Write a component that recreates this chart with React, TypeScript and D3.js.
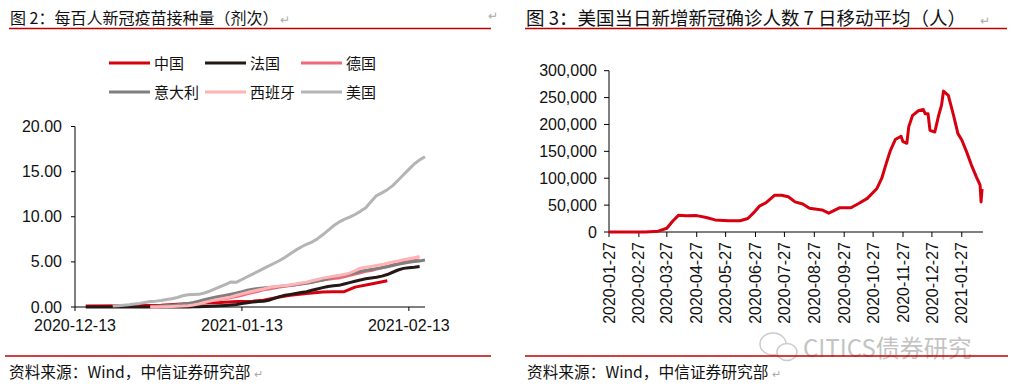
import React from "react";
import * as d3 from "d3";

// ---------- Left chart: vaccine doses per 100 people ----------
const leftTitle = "图 2：每百人新冠疫苗接种量（剂次）";
const rightTitle = "图 3：美国当日新增新冠确诊人数 7 日移动平均（人）";
const sourceText = "资料来源：Wind，中信证券研究部";
const watermarkText = "CITICS债券研究";

const leftXTicks = ["2020-12-13", "2021-01-13", "2021-02-13"];
const leftXDomain = ["2020-12-13", "2021-02-16"];
const leftYTicks = [0, 5, 10, 15, 20];

// China: sparse reported points [date, value]
const chinaDates = ["2020-12-15", "2020-12-23", "2020-12-29", "2021-01-01", "2021-01-04", "2021-01-06", "2021-01-09", "2021-01-12", "2021-01-15", "2021-01-17", "2021-01-20", "2021-01-22", "2021-01-25", "2021-01-28", "2021-01-30", "2021-02-01", "2021-02-03", "2021-02-06", "2021-02-09"];
const chinaValues = [0.1, 0.15, 0.2, 0.3, 0.4, 0.45, 0.5, 0.6, 0.65, 0.75, 1.1, 1.3, 1.5, 1.65, 1.68, 1.7, 2.2, 2.55, 2.9];

// Daily series: start date + daily values
const franceStart = "2020-12-15";
const franceValues = [0, 0, 0, 0, 0, 0, 0, 0, 0, 0, 0, 0, 0, 0, 0, 0, 0.01, 0.01, 0.01, 0.01, 0.02, 0.03, 0.05, 0.07, 0.1, 0.13, 0.17, 0.22, 0.28, 0.38, 0.48, 0.55, 0.6, 0.63, 0.75, 0.95, 1.15, 1.3, 1.4, 1.5, 1.6, 1.7, 1.85, 2.0, 2.15, 2.28, 2.35, 2.4, 2.55, 2.7, 2.85, 3.0, 3.12, 3.22, 3.3, 3.42, 3.6, 3.85, 4.1, 4.28, 4.35, 4.4, 4.48];

const germanyStart = "2020-12-27";
const germanyValues = [0, 0.02, 0.05, 0.08, 0.12, 0.18, 0.25, 0.32, 0.4, 0.48, 0.55, 0.65, 0.75, 0.85, 0.95, 1.05, 1.15, 1.3, 1.45, 1.6, 1.75, 1.9, 2.0, 2.1, 2.2, 2.3, 2.38, 2.45, 2.55, 2.62, 2.75, 2.88, 3.0, 3.08, 3.15, 3.22, 3.35, 3.5, 3.65, 3.8, 3.95, 4.05, 4.2, 4.35, 4.5, 4.65, 4.8, 4.95, 5.05, 5.15, 5.2];

const italyStart = "2020-12-27";
const italyValues = [0.05, 0.08, 0.12, 0.16, 0.2, 0.25, 0.32, 0.4, 0.5, 0.65, 0.8, 0.95, 1.08, 1.2, 1.3, 1.42, 1.55, 1.7, 1.85, 1.98, 2.05, 2.1, 2.15, 2.22, 2.28, 2.35, 2.42, 2.5, 2.58, 2.65, 2.75, 2.88, 3.0, 3.15, 3.35, 3.45, 3.55, 3.65, 3.78, 3.95, 4.05, 4.15, 4.25, 4.35, 4.45, 4.6, 4.72, 4.85, 4.95, 5.03, 5.1, 5.2];

const spainStart = "2020-12-27";
const spainValues = [0, 0.01, 0.02, 0.03, 0.05, 0.07, 0.1, 0.15, 0.22, 0.35, 0.5, 0.65, 0.78, 0.9, 1.0, 1.12, 1.3, 1.45, 1.6, 1.75, 1.88, 2.0, 2.15, 2.25, 2.32, 2.38, 2.45, 2.55, 2.65, 2.75, 2.9, 3.05, 3.2, 3.3, 3.4, 3.5, 3.6, 3.75, 4.0, 4.3, 4.4, 4.5, 4.6, 4.7, 4.85, 5.0, 5.1, 5.25, 5.35, 5.45, 5.6];

const usStart = "2020-12-20";
const usValues = [0.1, 0.15, 0.2, 0.25, 0.32, 0.4, 0.5, 0.6, 0.65, 0.72, 0.82, 0.92, 1.05, 1.25, 1.35, 1.38, 1.4, 1.55, 1.75, 2.0, 2.25, 2.5, 2.78, 2.75, 3.05, 3.35, 3.65, 3.95, 4.25, 4.55, 4.85, 5.15, 5.5, 5.9, 6.3, 6.65, 6.95, 7.2, 7.55, 8.0, 8.5, 9.0, 9.4, 9.7, 9.95, 10.25, 10.6, 11.0, 11.7, 12.35, 12.65, 13.0, 13.45, 14.05, 14.65, 15.25, 15.85, 16.3, 16.65];

const legendNames = ["中国", "法国", "德国", "意大利", "西班牙", "美国"];
const legendColors = ["#d7000f", "#231815", "#f0687a", "#7f7f7f", "#ffb3b5", "#b4b4b4"];

// ---------- Right chart: US new cases 7-day average ----------
const rightXTicks = ["2020-01-27", "2020-02-27", "2020-03-27", "2020-04-27", "2020-05-27", "2020-06-27", "2020-07-27", "2020-08-27", "2020-09-27", "2020-10-27", "2020-11-27", "2020-12-27", "2021-01-27"];
const rightXDomain = ["2020-01-27", "2021-02-18"];
const rightYTicks = [0, 50000, 100000, 150000, 200000, 250000, 300000];
const casesDates = ["2020-01-27", "2020-03-05", "2020-03-18", "2020-03-27", "2020-04-02", "2020-04-08", "2020-04-16", "2020-04-27", "2020-05-07", "2020-05-16", "2020-05-30", "2020-06-11", "2020-06-19", "2020-06-26", "2020-07-01", "2020-07-08", "2020-07-17", "2020-07-24", "2020-07-31", "2020-08-07", "2020-08-15", "2020-08-22", "2020-09-04", "2020-09-11", "2020-09-22", "2020-10-04", "2020-10-12", "2020-10-21", "2020-10-31", "2020-11-05", "2020-11-09", "2020-11-14", "2020-11-19", "2020-11-25", "2020-11-27", "2020-12-01", "2020-12-03", "2020-12-07", "2020-12-13", "2020-12-18", "2020-12-20", "2020-12-23", "2020-12-25", "2020-12-30", "2021-01-03", "2021-01-06", "2021-01-08", "2021-01-13", "2021-01-18", "2021-01-23", "2021-01-27", "2021-02-01", "2021-02-06", "2021-02-11", "2021-02-15", "2021-02-16", "2021-02-17"];
const casesValues = [0, 0, 1500, 7000, 20000, 31000, 30000, 30500, 27000, 22500, 21000, 21000, 25000, 37500, 48000, 54500, 68500, 68500, 65500, 56000, 52000, 44000, 41000, 35000, 45000, 45000, 53000, 62500, 81000, 100000, 124000, 152000, 172000, 178000, 168000, 165000, 196000, 217000, 225500, 228000, 220000, 220000, 189000, 186000, 217000, 236000, 262000, 254000, 220000, 183000, 171000, 149000, 124500, 103000, 87000, 56000, 80000];

const parse = d3.timeParse("%Y-%m-%d");
const NUM_FONT = "'Liberation Sans', Arial, sans-serif";
const CJK_FONT = "'Noto Sans CJK SC', 'Noto Sans', sans-serif";

function daily(start: string, values: number[]) {
  const s = parse(start)!;
  return values.map((v, i) => ({ d: d3.timeDay.offset(s, i), v }));
}

export default function App() {
  // Left scales
  const lx = d3.scaleTime().domain(leftXDomain.map((s) => parse(s)!)).range([75, 425]);
  const ly = d3.scaleLinear().domain([0, 20]).range([307, 126.5]);
  const lline = d3
    .line<{ d: Date; v: number }>()
    .x((p) => lx(p.d))
    .y((p) => ly(p.v));

  const series = [
    chinaDates.map((s, i) => ({ d: parse(s)!, v: chinaValues[i] })),
    daily(franceStart, franceValues),
    daily(germanyStart, germanyValues),
    daily(italyStart, italyValues),
    daily(spainStart, spainValues),
    daily(usStart, usValues),
  ];

  // Right scales
  const rx = d3.scaleTime().domain(rightXDomain.map((s) => parse(s)!)).range([609, 983]);
  const ry = d3.scaleLinear().domain([0, 300000]).range([232, 70.7]);
  const rline = d3
    .line<{ d: Date; v: number }>()
    .x((p) => rx(p.d))
    .y((p) => ry(p.v));
  const cases = casesDates.map((s, i) => ({ d: parse(s)!, v: casesValues[i] }));

  const f2 = d3.format(".2f");
  const fc = d3.format(",");

  const legendCols = [109, 205, 301];
  const legendRows = [63, 92];

  return (
    <svg width={1011} height={392} style={{ position: "absolute", left: 0, top: 0, background: "#fff" }}>
      <rect x={0} y={0} width={1011} height={392} fill="#fff" />
      {/* Titles */}
      <text x={10} y={24} fontSize={16} fontFamily={CJK_FONT} fill="#111">{leftTitle}</text>
      <text x={280} y={24} fontSize={12} fill="#aaa" fontFamily={CJK_FONT}>↵</text>
      <text x={488} y={20} fontSize={12} fill="#aaa" fontFamily={CJK_FONT}>↵</text>
      <line x1={9} x2={491} y1={28.5} y2={28.5} stroke="#c00000" strokeWidth={1.3} />
      <text x={526} y={25} fontSize={18.5} fontFamily={CJK_FONT} fill="#111">{rightTitle}</text>
      <text x={980} y={25} fontSize={12} fill="#aaa" fontFamily={CJK_FONT}>↵</text>
      <line x1={525} x2={1007} y1={28.5} y2={28.5} stroke="#c00000" strokeWidth={1.3} />

      {/* Left legend */}
      {legendNames.map((n, i) => {
        const cx = legendCols[i % 3];
        const cy = legendRows[Math.floor(i / 3)];
        return (
          <g key={n}>
            <line x1={cx} x2={cx + 41} y1={cy} y2={cy} stroke={legendColors[i]} strokeWidth={3} />
            <text x={cx + 45} y={cy + 5.5} fontSize={15} fontFamily={CJK_FONT} fill="#111">{n}</text>
          </g>
        );
      })}

      {/* Left axes */}
      <line x1={75} x2={75} y1={ly(20)} y2={ly(0)} stroke="#000" strokeWidth={1} />
      <line x1={75} x2={425} y1={ly(0)} y2={ly(0)} stroke="#000" strokeWidth={1} />
      {leftYTicks.map((t) => (
        <g key={t}>
          <line x1={71} x2={75} y1={ly(t)} y2={ly(t)} stroke="#000" />
          <text x={62} y={ly(t) + 5.5} textAnchor="end" fontSize={16} fontFamily={NUM_FONT} fill="#111">{f2(t)}</text>
        </g>
      ))}
      {leftXTicks.map((t) => {
        const x = lx(parse(t)!);
        return (
          <g key={t}>
            <line x1={x} x2={x} y1={ly(0)} y2={ly(0) + 4} stroke="#000" />
            <text x={x} y={331} textAnchor="middle" fontSize={16} fontFamily={NUM_FONT} fill="#111">{t}</text>
          </g>
        );
      })}
      {series.map((s, i) => (
        <path key={i} d={lline(s) || ""} fill="none" stroke={legendColors[i]} strokeWidth={3} strokeLinejoin="round" />
      ))}

      {/* Right axes */}
      <line x1={609} x2={609} y1={ry(300000)} y2={ry(0)} stroke="#000" />
      <line x1={609} x2={983} y1={ry(0)} y2={ry(0)} stroke="#000" />
      {rightYTicks.map((t) => (
        <g key={t}>
          <line x1={604} x2={609} y1={ry(t)} y2={ry(t)} stroke="#000" />
          <text x={597} y={ry(t) + 5.5} textAnchor="end" fontSize={16} fontFamily={NUM_FONT} fill="#111">{fc(t)}</text>
        </g>
      ))}
      {rightXTicks.map((t) => {
        const x = rx(parse(t)!);
        return (
          <g key={t}>
            <line x1={x} x2={x} y1={ry(0)} y2={ry(0) + 5} stroke="#000" />
            <text transform={`translate(${x},${242}) rotate(-90)`} textAnchor="end" dy="0.35em" fontSize={16} fontFamily={NUM_FONT} fill="#111">{t}</text>
          </g>
        );
      })}
      <path d={rline(cases) || ""} fill="none" stroke="#d7000f" strokeWidth={3} strokeLinejoin="round" />

      {/* Watermark */}
      <g opacity={0.5}>
        <ellipse cx={773} cy={344} rx={13} ry={11} fill="#fff" stroke="#999" strokeWidth={1.5} />
        <ellipse cx={787} cy={352} rx={10} ry={8.5} fill="#fff" stroke="#999" strokeWidth={1.5} />
        <text x={803} y={357} fontSize={24} fontFamily={CJK_FONT} fill="#888">{watermarkText}</text>
      </g>

      {/* Sources */}
      <line x1={5} x2={491} y1={356} y2={356} stroke="#c00000" strokeWidth={1.3} />
      <line x1={525} x2={1008} y1={356} y2={356} stroke="#c00000" strokeWidth={1.3} />
      <text x={9} y={378} fontSize={15.7} fontFamily={CJK_FONT} fill="#111">{sourceText}</text>
      <text x={254} y={378} fontSize={11} fill="#aaa" fontFamily={CJK_FONT}>↵</text>
      <text x={527} y={378} fontSize={15.7} fontFamily={CJK_FONT} fill="#111">{sourceText}</text>
      <text x={772} y={378} fontSize={11} fill="#aaa" fontFamily={CJK_FONT}>↵</text>
    </svg>
  );
}
